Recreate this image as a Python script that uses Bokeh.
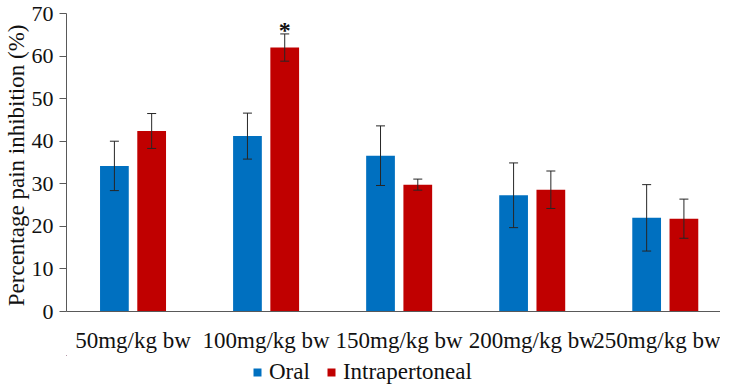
from bokeh.plotting import figure
from bokeh.layouts import column
from bokeh.models import Range1d, ColumnDataSource, Whisker, Legend, LegendItem, FixedTicker, TeeHead
from bokeh.transform import dodge
from bokeh.core.properties import value
from bokeh.embed import file_html
from bokeh.resources import INLINE

categories = ["50mg/kg bw", "100mg/kg bw", "150mg/kg bw", "200mg/kg bw", "250mg/kg bw"]
series = ["Oral", "Intrapertoneal"]
oral = [34.2, 41.2, 36.6, 27.3, 22.0]
oral_err = [5.8, 5.4, 7.0, 7.6, 7.8]
ip = [42.4, 62.0, 29.8, 28.6, 21.8]
ip_err = [4.1, 3.2, 1.3, 4.4, 4.6]
ip_sig = ["", "*", "", "", ""]
y_ticks = [0, 10, 20, 30, 40, 50, 60, 70]

FONT = "Liberation Serif"
BLUE = "#0070C0"
RED = "#C00000"
AX = "#595959"
colors = [BLUE, RED]

idx = list(range(len(categories)))
src = ColumnDataSource(dict(
    x=idx,
    oral=oral,
    oral_lo=[v - e for v, e in zip(oral, oral_err)],
    oral_hi=[v + e for v, e in zip(oral, oral_err)],
    ip=ip,
    ip_lo=[v - e for v, e in zip(ip, ip_err)],
    ip_hi=[v + e for v, e in zip(ip, ip_err)],
    ip_sig=ip_sig,
))

p = figure(width=720, height=355, output_backend="svg", toolbar_location=None,
           x_range=Range1d(-0.5, len(categories) - 0.585), y_range=Range1d(0, 70),
           min_border_left=59, min_border_right=0, min_border_top=13, min_border_bottom=0)
p.outline_line_color = None
p.xgrid.grid_line_color = None
p.ygrid.grid_line_color = None
p.background_fill_color = "white"

off = 0.14
bw = 0.216
keys = ["oral", "ip"]
for k, xo, c in zip(keys, [-off, off], colors):
    p.vbar(x=dodge("x", xo), top=k, width=bw, source=src, fill_color=c, line_color=None)
    w = Whisker(source=src, base=dodge("x", xo), lower=k + "_lo", upper=k + "_hi", dimension="height",
                line_color="#262626", line_width=1, level="overlay",
                upper_head=TeeHead(size=9, line_color="#262626", line_width=1),
                lower_head=TeeHead(size=9, line_color="#262626", line_width=1))
    p.add_layout(w)

p.text(x=dodge("x", off), y="ip_hi", text="ip_sig", source=src, text_align="center",
       text_baseline="bottom", y_offset=9, text_font=value(FONT), text_font_size="24px",
       text_font_style="bold", text_color="#111111")

# y axis
ya = p.yaxis[0]
ya.ticker = FixedTicker(ticks=y_ticks)
ya.axis_label = "Percentage pain  inhibition (%)"
ya.axis_label_text_font = FONT
ya.axis_label_text_font_size = "23px"
ya.axis_label_text_font_style = "normal"
ya.axis_label_text_color = "#111111"
ya.axis_label_standoff = 0
ya.major_label_text_font = FONT
ya.major_label_text_font_size = "22px"
ya.major_label_text_color = "#111111"
ya.major_label_standoff = 6
ya.major_tick_out = 7
ya.major_tick_in = 0
ya.minor_tick_line_color = None
ya.axis_line_color = AX
ya.major_tick_line_color = AX

# x axis
xa = p.xaxis[0]
xa.ticker = FixedTicker(ticks=idx)
xa.major_label_overrides = {i: c for i, c in enumerate(categories)}
xa.major_label_text_font = FONT
xa.major_label_text_font_size = "23px"
xa.major_label_text_color = "#111111"
xa.major_label_standoff = 10
xa.major_tick_line_color = None
xa.minor_tick_line_color = None
xa.axis_line_color = AX

# legend strip (its bars lie outside its visible ranges; only the legend shows)
lg = figure(width=720, height=30, output_backend="svg", toolbar_location=None,
            x_axis_type=None, y_axis_type=None, min_border=0,
            x_range=Range1d(100, 101), y_range=Range1d(-200, -100))
lg.outline_line_color = None
lg.xgrid.grid_line_color = None
lg.ygrid.grid_line_color = None
items = []
for name, k, xo, c in zip(series, keys, [-off, off], colors):
    r = lg.vbar(x=dodge("x", xo), top=k, width=bw, source=src, fill_color=c, line_color=None)
    items.append(LegendItem(label=name, renderers=[r]))
legend = Legend(items=items, orientation="horizontal", location=(186, 0),
                border_line_color=None, background_fill_alpha=0,
                label_text_font=FONT, label_text_font_size="23px", label_text_color="#111111",
                glyph_width=10, glyph_height=10, label_standoff=7, spacing=16,
                padding=0, margin=0)
lg.add_layout(legend, "center")

open("out.html", "w").write(file_html(column(p, lg, spacing=0), INLINE))
